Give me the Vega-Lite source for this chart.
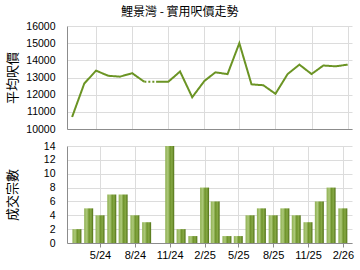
{
  "$schema": "https://vega.github.io/schema/vega-lite/v6.json",
  "padding": {"left": 6, "top": 6, "right": 5, "bottom": 5},
  "bounds": "flush",
  "spacing": 17,
  "config": {
    "font": "Liberation Sans",
    "view": {"stroke": null},
    "axis": {"gridColor": "#dcdcdc", "domainColor": "#8c8c8c", "labelFont": "Liberation Sans", "labelFontSize": 10.5, "labelColor": "#000", "titleFont": "Noto Sans CJK TC", "titleFontWeight": "normal", "titleColor": "#000"}
  },
  "title": {"text": "鯉景灣 - 實用呎價走勢", "font": "Noto Sans CJK TC", "fontSize": 12, "fontWeight": "normal", "anchor": "middle", "offset": 2, "color": "#000"},
  "datasets": {
    "price": [
      {"date": "2024-03-01", "price": 10700, "seg": "a", "style": "solid"},
      {"date": "2024-04-01", "price": 12650, "seg": "a", "style": "solid"},
      {"date": "2024-05-01", "price": 13400, "seg": "a", "style": "solid"},
      {"date": "2024-06-01", "price": 13100, "seg": "a", "style": "solid"},
      {"date": "2024-07-01", "price": 13050, "seg": "a", "style": "solid"},
      {"date": "2024-08-01", "price": 13250, "seg": "a", "style": "solid"},
      {"date": "2024-09-01", "price": 12750, "seg": "a", "style": "solid"},
      {"date": "2024-09-01", "price": 12750, "seg": "b", "style": "dotted"},
      {"date": "2024-10-01", "price": 12750, "seg": "b", "style": "dotted"},
      {"date": "2024-10-01", "price": 12750, "seg": "c", "style": "solid"},
      {"date": "2024-11-01", "price": 12750, "seg": "c", "style": "solid"},
      {"date": "2024-12-01", "price": 13350, "seg": "c", "style": "solid"},
      {"date": "2025-01-01", "price": 11850, "seg": "c", "style": "solid"},
      {"date": "2025-02-01", "price": 12800, "seg": "c", "style": "solid"},
      {"date": "2025-03-01", "price": 13300, "seg": "c", "style": "solid"},
      {"date": "2025-04-01", "price": 13200, "seg": "c", "style": "solid"},
      {"date": "2025-05-01", "price": 15000, "seg": "c", "style": "solid"},
      {"date": "2025-06-01", "price": 12600, "seg": "c", "style": "solid"},
      {"date": "2025-07-01", "price": 12550, "seg": "c", "style": "solid"},
      {"date": "2025-08-01", "price": 12050, "seg": "c", "style": "solid"},
      {"date": "2025-09-01", "price": 13200, "seg": "c", "style": "solid"},
      {"date": "2025-10-01", "price": 13750, "seg": "c", "style": "solid"},
      {"date": "2025-11-01", "price": 13200, "seg": "c", "style": "solid"},
      {"date": "2025-12-01", "price": 13700, "seg": "c", "style": "solid"},
      {"date": "2026-01-01", "price": 13650, "seg": "c", "style": "solid"},
      {"date": "2026-02-01", "price": 13750, "seg": "c", "style": "solid"}
    ],
    "count": [
      {"date": "2024-03-01", "n": 2},
      {"date": "2024-04-01", "n": 5},
      {"date": "2024-05-01", "n": 4},
      {"date": "2024-06-01", "n": 7},
      {"date": "2024-07-01", "n": 7},
      {"date": "2024-08-01", "n": 4},
      {"date": "2024-09-01", "n": 3},
      {"date": "2024-10-01", "n": 0},
      {"date": "2024-11-01", "n": 14},
      {"date": "2024-12-01", "n": 2},
      {"date": "2025-01-01", "n": 1},
      {"date": "2025-02-01", "n": 8},
      {"date": "2025-03-01", "n": 6},
      {"date": "2025-04-01", "n": 1},
      {"date": "2025-05-01", "n": 1},
      {"date": "2025-06-01", "n": 4},
      {"date": "2025-07-01", "n": 5},
      {"date": "2025-08-01", "n": 4},
      {"date": "2025-09-01", "n": 5},
      {"date": "2025-10-01", "n": 4},
      {"date": "2025-11-01", "n": 3},
      {"date": "2025-12-01", "n": 6},
      {"date": "2026-01-01", "n": 8},
      {"date": "2026-02-01", "n": 5}
    ]
  },
  "vconcat": [
    {
      "width": 285,
      "height": 103,
      "data": {"name": "price"},
      "mark": {"type": "line", "color": "#6b9424", "strokeWidth": 2},
      "encoding": {
        "x": {"field": "date", "type": "temporal",
          "scale": {"type": "utc", "domain": ["2024-02-17", "2026-02-12"]},
          "axis": {"title": null, "labels": false, "ticks": false, "grid": true,
            "values": ["2024-05-01", "2024-08-01", "2024-11-01", "2025-02-01", "2025-05-01", "2025-08-01", "2025-11-01", "2026-02-01"]}},
        "y": {"field": "price", "type": "quantitative",
          "scale": {"domain": [10000, 16000], "nice": false, "zero": false},
          "axis": {"title": "平均呎價", "titleFontSize": 13, "format": "d", "values": [10000, 11000, 12000, 13000, 14000, 15000, 16000], "ticks": false, "labelPadding": 12, "minExtent": 41, "maxExtent": 41, "titlePadding": 7}},
        "detail": {"field": "seg"},
        "strokeDash": {"field": "style", "type": "nominal", "scale": {"domain": ["solid", "dotted"], "range": [[1, 0], [2, 2]]}, "legend": null}
      }
    },
    {
      "width": 285,
      "height": 97,
      "data": {"name": "count"},
      "mark": {"type": "bar", "width": 9,
        "fill": {"gradient": "linear", "x1": 0, "x2": 1, "y1": 0, "y2": 0,
          "stops": [{"offset": 0, "color": "#8fb052"}, {"offset": 0.3, "color": "#adc97a"}, {"offset": 0.55, "color": "#6f942c"}, {"offset": 0.75, "color": "#86a845"}, {"offset": 1, "color": "#4f7014"}]}},
      "encoding": {
        "x": {"field": "date", "type": "temporal",
          "scale": {"type": "utc", "domain": ["2024-02-17", "2026-02-12"]},
          "axis": {"title": null, "labelExpr": "utcFormat(datum.value, '%-m/%y')", "labelOverlap": false, "grid": true, "tickSize": 4, "tickColor": "#8c8c8c", "labelPadding": 2, "labelFontSize": 11,
            "values": ["2024-05-01", "2024-08-01", "2024-11-01", "2025-02-01", "2025-05-01", "2025-08-01", "2025-11-01", "2026-02-01"]}},
        "y": {"field": "n", "type": "quantitative",
          "scale": {"domain": [0, 14], "nice": false},
          "axis": {"title": "成交宗數", "titleFontSize": 13, "values": [0, 2, 4, 6, 8, 10, 12, 14], "ticks": false, "labelPadding": 12, "minExtent": 41, "maxExtent": 41, "titlePadding": 7}}
      }
    }
  ]
}
